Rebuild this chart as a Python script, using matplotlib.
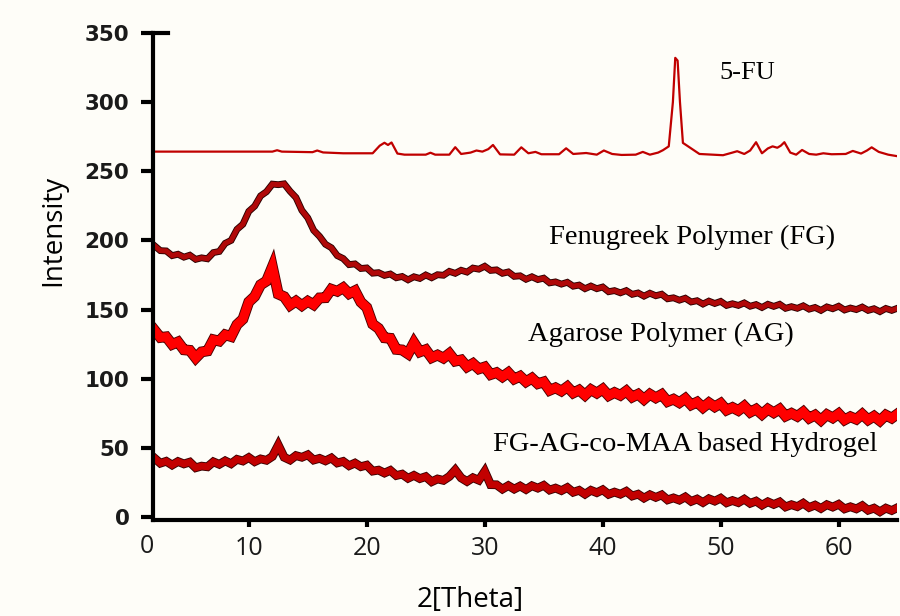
import numpy as np
import matplotlib
matplotlib.use("Agg")
import matplotlib.pyplot as plt
import matplotlib.patheffects as pe

# 5-FU pattern (thin line, read at the breakpoints of the trace)
fu_x = [1.9, 10.0, 12.0, 12.4, 12.8, 15.4, 15.8, 16.3, 18.0, 20.5, 21.1, 21.5, 21.8, 22.1,
        22.6, 23.2, 25.0, 25.4, 25.8, 27.0, 27.5, 28.0, 28.8, 29.3, 29.8, 30.3, 30.7, 31.3,
        32.5, 33.1, 33.7, 34.3, 34.8, 36.3, 36.9, 37.5, 38.6, 39.5, 40.1, 40.8, 41.6, 42.8,
        43.4, 44.0, 44.7, 45.1, 45.6, 45.95, 46.15, 46.35, 46.55, 46.8, 47.1, 48.2, 50.2,
        51.0, 51.4, 52.0, 52.5, 53.0, 53.5, 54.0, 54.4, 54.8, 55.1, 55.4, 55.9, 56.4, 56.9,
        57.5, 58.1, 58.7, 59.4, 60.6, 61.2, 61.9, 62.4, 62.8, 63.4, 64.2, 64.9]
fu_y = [264.2, 264.2, 264.2, 265.2, 264.2, 263.8, 265.0, 263.6, 263.0, 263.0, 268.5, 270.6,
        269.0, 270.8, 262.8, 262.0, 262.0, 263.4, 262.0, 262.0, 267.4, 262.5, 263.5, 265.0,
        264.2, 266.0, 269.0, 262.2, 262.0, 267.3, 263.0, 264.0, 262.3, 262.3, 266.6, 262.5,
        263.2, 262.0, 265.0, 262.5, 261.8, 262.0, 264.0, 262.0, 263.5, 265.2, 268.0, 300.0,
        332.0, 330.0, 300.0, 270.5, 268.8, 262.5, 261.6, 263.5, 264.5, 262.5, 265.0, 271.0,
        263.0, 266.5, 268.0, 267.0, 268.5, 271.0, 263.5, 262.0, 265.4, 262.5, 262.0, 263.0,
        262.3, 262.5, 264.7, 262.8, 265.0, 267.3, 264.0, 262.0, 261.0]

# noisy scans, one reading every 0.5 degree from 2 to 65
scan_x = np.arange(2.0, 65.01, 0.5)

fg_y = [196.2, 192.6, 192.4, 189.0, 190.0, 187.9, 189.3, 186.3, 187.4, 186.7,
        191.2, 192.0, 197.9, 200.0, 208.0, 211.7, 221.0, 224.8, 232.2, 235.2,
        240.7, 240.3, 240.9, 235.5, 231.0, 221.7, 216.3, 207.3, 202.9, 197.2,
        194.7, 189.0, 186.9, 182.5, 183.0, 179.7, 180.1, 176.3, 176.7, 174.7,
        175.7, 173.0, 173.9, 171.5, 173.7, 172.5, 175.0, 173.0, 175.2, 174.8,
        177.6, 176.2, 178.4, 177.1, 180.0, 179.2, 181.3, 178.3, 178.7, 176.2,
        177.2, 174.0, 174.4, 171.9, 173.7, 171.7, 172.7, 169.3, 170.0, 168.4,
        169.7, 166.9, 167.7, 165.1, 167.0, 165.1, 166.3, 162.9, 163.7, 162.1,
        163.7, 161.0, 162.0, 159.7, 161.8, 160.0, 161.1, 157.8, 158.5, 156.8,
        158.2, 155.5, 156.4, 154.0, 156.1, 154.4, 155.9, 153.0, 154.2, 153.0,
        154.8, 152.4, 153.6, 151.5, 153.8, 152.3, 153.8, 150.9, 152.1, 150.9,
        152.7, 150.3, 151.5, 149.4, 151.9, 150.6, 152.4, 149.7, 151.1, 150.0,
        151.8, 149.4, 150.6, 148.5, 150.8, 149.4, 151.0]

ag_y = [135.2, 129.8, 130.3, 124.8, 126.6, 120.9, 120.5, 115.0, 119.4, 120.1,
        128.2, 127.2, 131.8, 130.5, 139.1, 143.1, 155.5, 159.5, 167.9, 170.6,
        181.0, 161.2, 159.3, 153.2, 156.1, 152.9, 156.0, 153.5, 158.4, 158.6,
        164.7, 163.2, 165.8, 161.5, 163.6, 155.4, 151.5, 139.5, 136.4, 129.6,
        129.2, 121.2, 120.8, 118.0, 126.0, 119.4, 121.0, 115.2, 117.1, 114.9,
        118.2, 112.7, 113.6, 108.6, 111.0, 107.1, 108.5, 103.0, 104.4, 101.4,
        104.4, 99.8, 101.8, 97.8, 100.4, 96.4, 97.7, 91.6, 93.4, 91.1,
        94.2, 89.7, 91.8, 88.1, 92.1, 89.6, 92.5, 87.8, 90.0, 88.0,
        91.1, 86.7, 88.8, 85.1, 88.8, 86.2, 88.6, 83.5, 85.2, 82.7,
        85.7, 81.1, 83.1, 79.2, 82.6, 79.7, 82.2, 77.3, 79.2, 77.0,
        80.2, 75.8, 78.0, 74.3, 78.0, 75.4, 78.0, 73.0, 75.0, 72.8,
        76.0, 71.5, 73.7, 70.0, 74.0, 71.7, 74.7, 70.2, 72.5, 70.7,
        74.3, 70.3, 72.9, 69.6, 73.7, 71.5, 74.6]

gel_y = [42.6, 38.9, 40.3, 37.6, 40.1, 38.4, 39.7, 35.6, 36.8, 36.3,
         39.9, 38.1, 40.6, 38.5, 41.7, 40.5, 43.0, 40.0, 42.0, 41.0,
         43.8, 52.0, 43.2, 41.2, 44.4, 43.2, 45.0, 41.2, 42.4, 40.6,
         42.7, 39.1, 40.2, 37.1, 39.0, 36.4, 37.5, 33.2, 33.9, 31.8,
         33.7, 30.0, 31.0, 28.0, 30.1, 27.8, 29.2, 25.5, 27.5, 26.5,
         29.3, 34.0, 28.3, 25.7, 28.4, 26.6, 33.0, 23.4, 23.3, 20.2,
         22.7, 20.2, 22.4, 19.9, 22.6, 20.9, 22.9, 19.5, 20.9, 19.1,
         21.3, 17.9, 19.3, 16.5, 19.3, 17.6, 19.7, 16.4, 18.0, 16.5,
         18.6, 15.2, 16.5, 13.7, 16.1, 14.2, 16.0, 12.4, 13.8, 12.2,
         14.5, 11.3, 13.0, 10.5, 13.2, 11.5, 13.6, 10.3, 11.9, 10.4,
         12.9, 9.9, 11.5, 8.6, 11.0, 9.1, 10.9, 7.3, 8.9, 7.5,
         10.0, 6.9, 8.6, 6.2, 8.9, 7.2, 9.2, 5.9, 7.4, 5.9,
         8.2, 4.9, 6.4, 3.8, 6.4, 4.7, 6.8]

labels = ["5-FU", "Fenugreek Polymer (FG)", "Agarose Polymer (AG)", "FG-AG-co-MAA based Hydrogel"]

bg = "#fefdf8"
fig = plt.figure(figsize=(9, 6.16), dpi=100, facecolor=bg)
ax = fig.add_axes([0.17, 0.1562, 0.8267, 0.7903])
ax.set_facecolor(bg)


def band(y, color, lw, edge):
    ax.plot(scan_x, y, color=color, lw=lw, solid_joinstyle="miter",
            path_effects=[pe.Stroke(linewidth=lw + 1.3, foreground=edge), pe.Normal()])


ax.plot(fu_x, fu_y, color="#c00000", lw=1.6)
band(fg_y, "#b00808", 3.6, "#2a0000")
band(ag_y, "#ff0000", 6.5, "#4a0000")
band(gel_y, "#c20000", 5.0, "#3a0000")

ax.set_xlim(1.88, 64.95)
ax.set_ylim(-2, 350)

for s in ["top", "right"]:
    ax.spines[s].set_visible(False)
ax.spines["left"].set_linewidth(3)
ax.spines["bottom"].set_linewidth(3)

ax.set_yticks([0, 50, 100, 150, 200, 250, 300, 350])
ax.set_xticks([10, 20, 30, 40, 50, 60])
ax.tick_params(axis="y", direction="out", length=9, width=3, pad=8)
ax.tick_params(axis="x", direction="out", length=5, width=3, pad=7)
for t in ax.get_yticklabels():
    t.set_fontfamily("DejaVu Sans")
    t.set_fontweight("bold")
    t.set_fontsize(15.5)
    t.set_color("#1a1a1a")
for t in ax.get_xticklabels():
    t.set_fontfamily("Open Sans")
    t.set_fontsize(18)
    t.set_color("#1a1a1a")
# cap on top of the y axis
ax.plot([0, 0.02], [350, 350], color="black", lw=3, transform=ax.get_yaxis_transform(), clip_on=False)
ax.text(1.4, -0.03, "0", transform=ax.get_xaxis_transform(), ha="center", va="top",
        fontfamily="Open Sans", fontsize=18, color="#1a1a1a")

ax.set_ylabel("Intensity", fontfamily="Open Sans", fontsize=20)
ax.yaxis.set_label_coords(-0.115, 0.595)
ax.set_xlabel("2[Theta]", fontfamily="Open Sans", fontsize=20)
ax.xaxis.set_label_coords(0.426, -0.135)

serif = "Liberation Serif"
ax.text(49.9, 321, labels[0], ha="left", va="center", fontfamily=serif, fontsize=19)
ax.text(47.6, 202.5, labels[1], ha="center", va="center", fontfamily=serif, fontsize=20.5)
ax.text(44.9, 132.3, labels[2], ha="center", va="center", fontfamily=serif, fontsize=20.5)
ax.text(47.0, 52.1, labels[3], ha="center", va="center", fontfamily=serif, fontsize=20.5)

fig.savefig("out.png", dpi=100, facecolor=bg)
